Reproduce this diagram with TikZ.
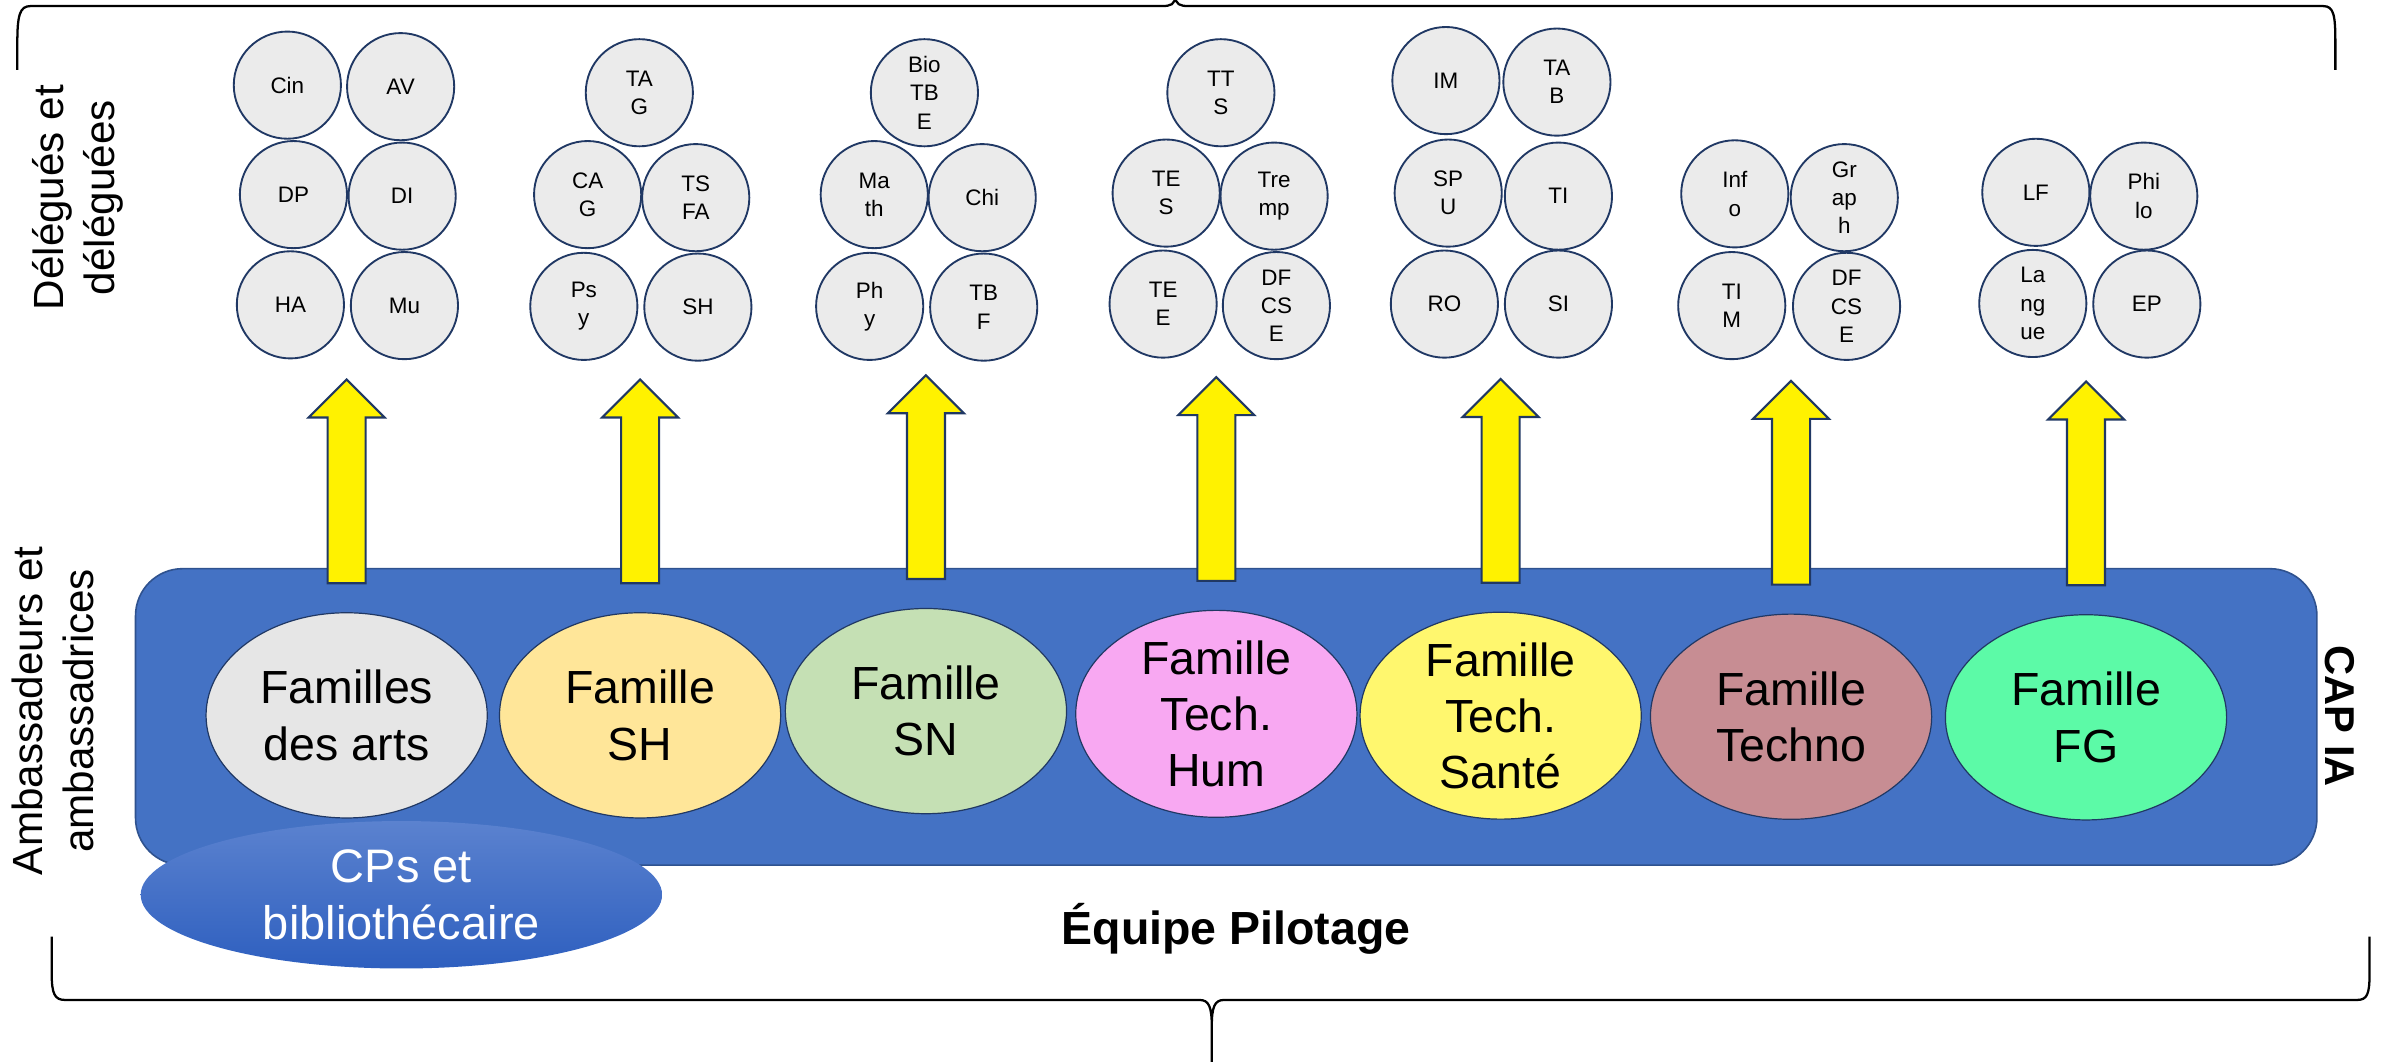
\documentclass[tikz,border=0pt]{standalone}
\usepackage{fontspec}
\setmainfont{Liberation Sans}
\usepackage{tikz}
\usepackage{xcolor}
\usetikzlibrary{calc,positioning,shapes.geometric}
\definecolor{capblue}{HTML}{4472C4}
\definecolor{capedge}{HTML}{2F528F}
\definecolor{navy}{HTML}{203864}
\definecolor{grisdel}{HTML}{EBEBEB}
\definecolor{cptop}{HTML}{5B82CF}
\definecolor{cpbot}{HTML}{2E5FBF}
\definecolor{cArts}{HTML}{E6E6E6}
\definecolor{cSH}{HTML}{FFE699}
\definecolor{cSN}{HTML}{C5E0B4}
\definecolor{cHum}{HTML}{F8A8F2}
\definecolor{cSante}{HTML}{FFF76E}
\definecolor{cTechno}{HTML}{C78D93}
\definecolor{cFG}{HTML}{5CFAA7}
\tikzset{%
	delegue/.style  = {draw=navy, line width=0.7pt, fill=grisdel, circle, minimum size=1.41cm, inner sep=0pt, align=center, font=\fontsize{8.4}{10.6}\selectfont},
	famille/.style  = {draw=navy, line width=0.45pt, ellipse, minimum width=3.7cm, minimum height=2.7cm, inner sep=0pt, align=center, font=\fontsize{17.4}{21}\selectfont},
	capbox/.style   = {draw=capedge, line width=0.6pt, fill=capblue, rectangle, rounded corners=0.62cm, minimum width=28.7cm, minimum height=3.9cm},
	cpbox/.style    = {ellipse, top color=cptop, bottom color=cpbot, minimum width=6.86cm, minimum height=1.94cm, inner sep=0pt, text=white, align=center, font=\fontsize{17.6}{21.2}\selectfont},
	fleche/.style   = {draw=navy, line width=0.8pt, fill=yellow, line join=miter},
	etiquette/.style= {align=center, font=\fontsize{15.8}{19.3}\selectfont},
	accolade/.style = {line width=0.85pt},
}
\begin{document}
\begin{tikzpicture}[x=0.02cm,y=-0.02cm]
	\useasboundingbox (0,0) rectangle (1568,697.85);
	% braces
	\draw[accolade] (11.4,46) -- (11.4,28) .. controls (11.4,10) and (13,4) .. (20,4) -- (764,4) .. controls (770,4) and (773,3) .. (773,-3) .. controls (773,3) and (776,4) .. (782,4) -- (1528,4) .. controls (1535,4) and (1536,10) .. (1536,28) -- (1536,46);
	\draw[accolade] (34,616) -- (34,640) .. controls (34,654) and (36,657.7) .. (43,657.7) -- (789,657.7) .. controls (795,657.7) and (797,662) .. (797,675) -- (797,700)
		(797,675) .. controls (797,662) and (799,657.7) .. (805,657.7) -- (1550,657.7) .. controls (1557,657.7) and (1558.5,654) .. (1558.5,640) -- (1558.5,616);
	
	\node[capbox] (cap) at (806.5,471.5) {};
	\foreach \n/\x/\y/\c/\t in {arts/228/470.5/cArts/{Familles\\des arts}, sh/421/470.5/cSH/{Famille\\SH}, sn/609/467.7/cSN/{Famille\\SN}, hum/800/469.5/cHum/{Famille\\Tech.\\Hum}, sante/987/470.7/cSante/{Famille\\Tech.\\Santé}, techno/1178/471.4/cTechno/{Famille\\Techno}, fg/1372/471.8/cFG/{Famille\\FG}}
		\node[famille, fill=\c] (\n) at (\x,\y) {\t};
	\node[cpbox] (cps) at (264,588.5) {CPs et\\bibliothécaire};
	
	% arrows up to the delegates
	\foreach \f in {arts,sh,sn,hum,sante,techno,fg}
		\draw[fleche] ($(\f.north)+(-12.5,-19)$) -- ++(0,-109) -- ++(-12.5,0) -- ++(25,-25) -- ++(25,25) -- ++(-12.5,0) -- ++(0,109) -- cycle;
	
	\foreach \n/\x/\y/\t in {cin/189/56/Cin, av/263.5/57/AV, dp/193/128/DP, di/264.5/129/DI, ha/191/200.5/HA, mu/266/201/Mu,
		tag/420.5/61/{TA\\G}, cag/386.5/128/{CA\\G}, tsfa/457.6/130/{TS\\FA}, psy/384/201.5/{Ps\\y}, shd/459/202/SH,
		biotbe/608/61/{Bio\\TB\\E}, math/575/128/{Ma\\th}, chi/646/130/Chi, phy/572/201.5/{Ph\\y}, tbf/647/202/{TB\\F},
		tts/803/61/{TT\\S}, tes/767/127/{TE\\S}, tremp/838/129/{Tre\\mp}, tee/765/200/{TE\\E}, dfcseh/839.5/201/{DF\\CS\\E},
		im/951/53/IM, tab/1024/54/{TA\\B}, spu/952.5/127/{SP\\U}, ti/1025/129/TI, ro/950/200/RO, si/1025/200/SI,
		info/1141/127.5/{Inf\\o}, graph/1213/130/{Gr\\ap\\h}, tim/1139/201/{TI\\M}, dfcset/1214.5/201.5/{DF\\CS\\E},
		lf/1339/126.5/LF, philo/1410/129/{Phi\\lo}, langue/1337/199.6/{La\\ng\\ue}, ep/1412/200/EP}
		\node[delegue] (\n) at (\x,\y) {\t};
	
	\node[etiquette, rotate=90] (deleg) at (51.2,130) {Délégués et\\déléguées};
	\node[etiquette, rotate=90] (ambas) at (34.8,467.5) {Ambassadeurs et\\ambassadrices};
	\node[rotate=-90, font=\bfseries\fontsize{15.6}{18}\selectfont] (capia) at (1539,471) {CAP IA};
	\node[anchor=base, font=\bfseries\fontsize{17.4}{20}\selectfont] (pilotage) at (813,621.5) {Équipe Pilotage};
\end{tikzpicture}
\end{document}
